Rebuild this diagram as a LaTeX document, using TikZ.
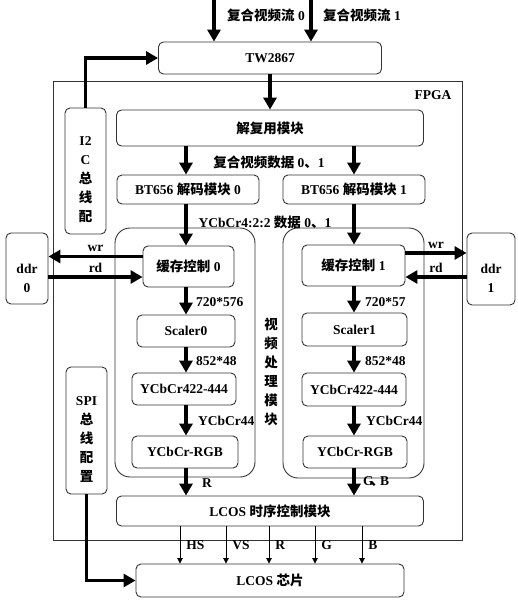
\documentclass[tikz,border=0pt]{standalone}
\usepackage{fontspec}
\setmainfont{Liberation Serif}
\newfontfamily\cjk{Noto Sans CJK SC}
\usepackage{tikz}
\usetikzlibrary{arrows.meta,positioning}
\newcommand{\zh}[1]{{\cjk #1}}
\tikzset{
  every node/.style={font=\fontsize{13.5}{19}\selectfont\bfseries},
  blk/.style={draw=black!80,line width=0.9pt,rounded corners=5pt,inner sep=0pt,align=center},
  grp/.style={draw=black!80,line width=0.9pt,rounded corners=15pt,inner sep=0pt},
  lbl/.style={inner sep=0pt,align=center},
  bus/.style={-{Triangle[length=12pt,width=13pt]},line width=3.6pt},
  sig/.style={-{Triangle[length=5.5pt,width=5.5pt]},line width=0.9pt},
}

\begin{document}
\begin{tikzpicture}[x=1pt,y=-1pt]
  \useasboundingbox (0,0) rectangle (518,600);
  \draw[line width=0.9pt,draw=black!80] (53,81) rectangle (462,540);
  \node[lbl] (fpga) at (433,95) {FPGA};
  \coordinate (in0) at (214,0);
  \coordinate (in1) at (311,0);
  \coordinate (c0) at (186,0);
  \coordinate (c1) at (354,0);
  \node[lbl,anchor=west] (s0) at (227,15) {\zh{复合视频流} 0};
  \node[lbl,anchor=west] (s1) at (323,15) {\zh{复合视频流} 1};
  \node[blk,minimum width=223,minimum height=32] (tw) at (270,58) {TW2867};
  \node[blk,minimum width=307,minimum height=36] (demux) at (270,128) {\zh{解复用模块}};
  \node[blk,minimum width=41,minimum height=126] (i2c) at (85.5,171) {};
  \node[lbl] (i2ct) at (85.5,180) {I2\\C\\\zh{总}\\\zh{线}\\\zh{配}};
  \node[blk,minimum width=142,minimum height=29] (bt0) at (188,189.5) {BT656 \zh{解码模块} 0};
  \node[blk,minimum width=142,minimum height=29] (bt1) at (354,189.5) {BT656 \zh{解码模块} 1};
  \node[lbl] (mix) at (269,162) {\zh{复合视频数据} 0\zh{、}1};
  \node[lbl] (yuv) at (265,222) {YCbCr4:2:2 \zh{数据} 0\zh{、}1};
  \node[grp,minimum width=140,minimum height=249] (vp0) at (185,352.5) {};
  \node[grp,minimum width=141,minimum height=250] (vp1) at (353.5,353) {};
  \node[lbl] (vpt) at (271,372) {\zh{视}\\\zh{频}\\\zh{处}\\\zh{理}\\\zh{模}\\\zh{块}};
  \node[blk,minimum width=91,minimum height=41] (buf0) at (188.5,266.5) {\zh{缓存控制} 0};
  \node[blk,minimum width=103,minimum height=41] (buf1) at (353.5,265.5) {\zh{缓存控制} 1};
  \node[blk,minimum width=42,minimum height=71] (ddr0) at (27,268.5) {};
  \node[lbl] (ddr0t) at (27,278) {ddr\\0};
  \node[blk,minimum width=48,minimum height=72] (ddr1) at (491,269) {};
  \node[lbl] (ddr1t) at (491,278) {ddr\\1};
  \node[blk,minimum width=98,minimum height=32] (sc0) at (186,331) {Scaler0};
  \node[blk,minimum width=105,minimum height=33] (sc1) at (354.5,329.5) {Scaler1};
  \node[blk,minimum width=104,minimum height=32] (yc0) at (184,389) {YCbCr422-444};
  \node[blk,minimum width=104,minimum height=33] (yc1) at (354,389.5) {YCbCr422-444};
  \node[blk,minimum width=106,minimum height=32] (rgb0) at (185,452) {YCbCr-RGB};
  \node[blk,minimum width=104,minimum height=32] (rgb1) at (355,452) {YCbCr-RGB};
  \node[blk,minimum width=41,minimum height=127] (spi) at (86.5,430.5) {};
  \node[lbl] (spit) at (86.5,439) {SPI\\\zh{总}\\\zh{线}\\\zh{配}\\\zh{置}};
  \node[blk,minimum width=307,minimum height=30] (ctl) at (270,511) {LCOS \zh{时序控制模块}};
  \node[blk,minimum width=268,minimum height=33] (lcos) at (270,580.5) {LCOS \zh{芯片}};

  \draw[bus] (in0) -- (in0 |- tw.north);
  \draw[bus] (in1) -- (in1 |- tw.north);
  \draw[bus] (tw.south) -- (demux.north);
  \draw[bus] (i2c.north) |- (tw.west);
  \draw[bus] (spi.south) |- (lcos.west);
  \foreach \a/\b in {demux/bt0,bt0/buf0,buf0/sc0,sc0/yc0,yc0/rgb0,rgb0/ctl}
    \draw[bus] (\a.south -| c0) -- (\b.north -| c0);
  \foreach \a/\b in {demux/bt1,bt1/buf1,buf1/sc1,sc1/yc1,yc1/rgb1,rgb1/ctl}
    \draw[bus] (\a.south -| c1) -- (\b.north -| c1);
  \node[lbl,anchor=west] at (196,302) {720*576};
  \node[lbl,anchor=west] at (196,361) {852*48};
  \node[lbl,anchor=west] at (198,421) {YCbCr44};
  \node[lbl,anchor=west] at (202,483) {R};
  \node[lbl,anchor=west] at (365,302) {720*57};
  \node[lbl,anchor=west] at (365,361) {852*48};
  \node[lbl,anchor=west] at (366,421) {YCbCr44};
  \node[lbl,anchor=west] at (363,482) {G\kern-3pt\zh{、}\kern-4pt B};

  \draw[bus] ([yshift=10pt]buf0.west) -- ([yshift=10pt]buf0.west -| ddr0.east) node[midway,above=3pt,lbl] {wr};
  \draw[bus] ([yshift=-10.5pt]buf0.west -| ddr0.east) -- ([yshift=-10.5pt]buf0.west) node[midway,above=3pt,lbl] {rd};
  \draw[bus] ([yshift=12.5pt]buf1.east) -- ([yshift=12.5pt]buf1.east -| ddr1.west) node[midway,above=3pt,lbl] {wr};
  \draw[bus] ([yshift=-11.5pt]buf1.east -| ddr1.west) -- ([yshift=-11.5pt]buf1.east) node[midway,above=3pt,lbl] {rd};

  \foreach \x/\s in {180/HS,226/VS,269/R,315/G,362/B} {
    \path (\x,0) coordinate (t);
    \draw[sig] (ctl.south -| t) -- (lcos.north -| t) node[midway,right=6pt,lbl] {\s};
  }
\end{tikzpicture}
\end{document}
